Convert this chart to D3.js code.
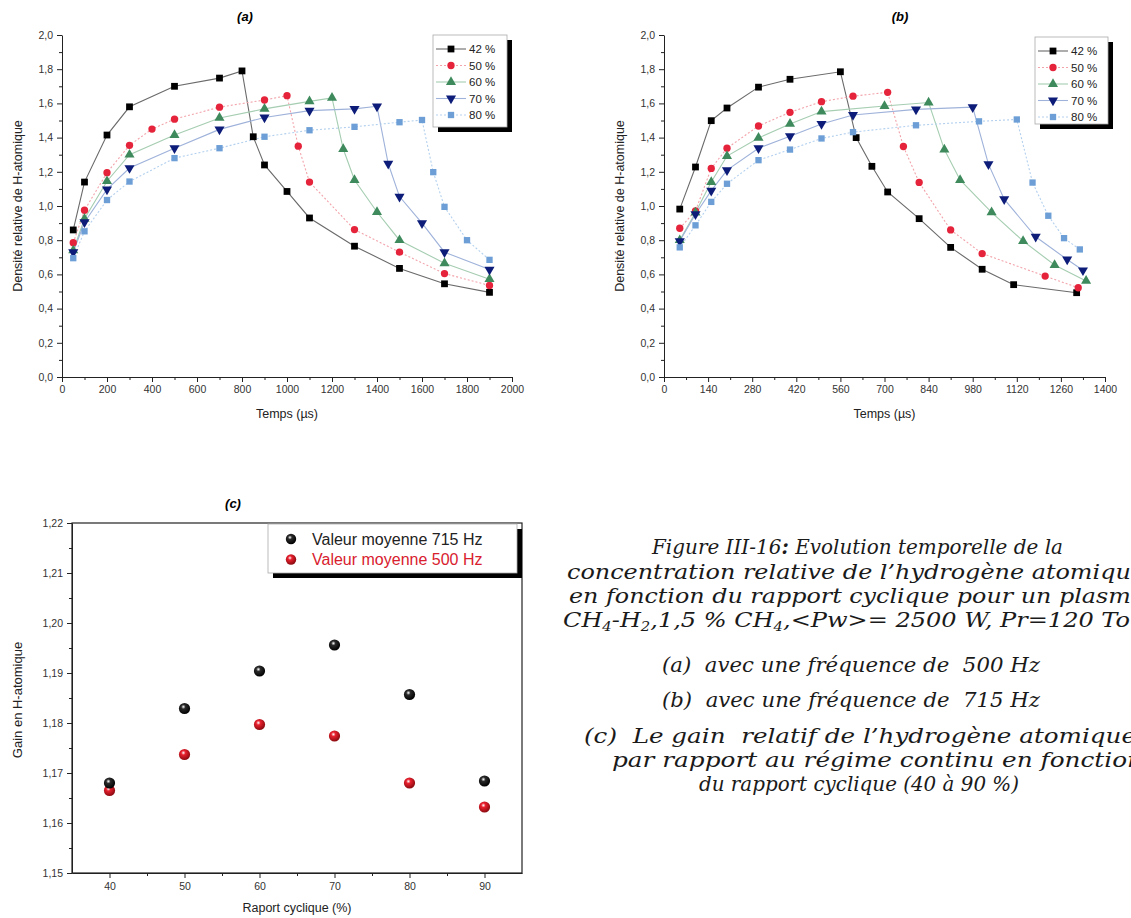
<!DOCTYPE html>
<html><head><meta charset="utf-8">
<script src="https://cdn.jsdelivr.net/npm/d3@7"></script>
<style>
body{margin:0;background:#fff}
svg{display:block}
.tick text{font-family:"Liberation Sans",Arial,sans-serif;font-size:10.5px;fill:#333}
.cap{font-family:"DejaVu Serif",serif;font-style:italic;font-size:19.5px;fill:#1a1a1a;white-space:pre}
</style>
</head><body>
<svg id="chart" width="1131" height="918"></svg>
<script>
// ---------------- DATA ----------------
const seriesLabels = ["42 %", "50 %", "60 %", "70 %", "80 %"];

// Panel (a) 500 Hz : time (µs) and relative density
const aT42 = [50,100,200,300,500,700,800,850,900,1000,1100,1300,1500,1700,1900];
const aV42 = [0.86,1.14,1.415,1.58,1.70,1.748,1.79,1.405,1.24,1.085,0.93,0.765,0.635,0.545,0.495];
const aT50 = [50,100,200,300,400,500,700,900,1000,1050,1100,1300,1500,1700,1900];
const aV50 = [0.785,0.975,1.195,1.355,1.45,1.508,1.578,1.62,1.645,1.35,1.14,0.862,0.73,0.605,0.535];
const aT60 = [50,100,200,300,500,700,900,1100,1200,1250,1300,1400,1500,1700,1900];
const aV60 = [0.74,0.925,1.145,1.30,1.415,1.515,1.568,1.612,1.632,1.333,1.152,0.965,0.80,0.665,0.572];
const aT70 = [50,100,200,300,500,700,900,1100,1300,1400,1450,1500,1600,1700,1900];
const aV70 = [0.73,0.905,1.097,1.222,1.338,1.448,1.518,1.558,1.568,1.583,1.247,1.055,0.90,0.73,0.628];
const aT80 = [50,100,200,300,500,700,900,1100,1300,1500,1600,1650,1700,1800,1900];
const aV80 = [0.695,0.852,1.035,1.143,1.28,1.338,1.405,1.443,1.463,1.49,1.503,1.198,0.995,0.80,0.685];

// Panel (b) 715 Hz
const bT42 = [50,100,150,200,300,400,560,610,660,710,810,910,1010,1110,1310];
const bV42 = [0.982,1.228,1.499,1.573,1.695,1.741,1.785,1.40,1.232,1.082,0.926,0.758,0.63,0.54,0.493];
const bT50 = [50,100,150,200,300,400,500,600,710,760,810,910,1010,1210,1315];
const bV50 = [0.87,0.972,1.22,1.338,1.468,1.548,1.61,1.642,1.665,1.348,1.138,0.86,0.722,0.59,0.522];
const bT60 = [50,100,150,200,300,400,500,700,840,890,940,1040,1140,1240,1340];
const bV60 = [0.80,0.962,1.14,1.292,1.398,1.48,1.552,1.585,1.605,1.33,1.152,0.963,0.795,0.655,0.562];
const bT70 = [50,100,150,200,300,400,500,600,800,980,1030,1080,1180,1280,1330];
const bV70 = [0.795,0.952,1.09,1.21,1.338,1.408,1.48,1.532,1.565,1.578,1.245,1.04,0.82,0.687,0.624];
const bT80 = [50,100,150,200,300,400,500,600,800,1000,1120,1170,1220,1270,1320];
const bV80 = [0.758,0.887,1.024,1.13,1.268,1.33,1.395,1.432,1.472,1.495,1.506,1.137,0.943,0.812,0.746];

// Panel (c) gain vs duty cycle
const cDuty = [40,50,60,70,80,90];
const c715 = [1.1680,1.1829,1.1904,1.1956,1.1857,1.1684];
const c500 = [1.1665,1.1737,1.1797,1.1774,1.1680,1.1632];
const cLegend = ["Valeur moyenne 715 Hz", "Valeur moyenne 500 Hz"];

// Tick values
const abYTicks = [0,0.2,0.4,0.6,0.8,1.0,1.2,1.4,1.6,1.8,2.0];
const aXTicks = [0,200,400,600,800,1000,1200,1400,1600,1800,2000];
const bXTicks = [0,140,280,420,560,700,840,980,1120,1260,1400];
const cXTicks = [40,50,60,70,80,90];
const cYTicks = [1.15,1.16,1.17,1.18,1.19,1.20,1.21,1.22];

// ---------------- STYLE ----------------
const markerColor = ["#000000","#e5233a","#3e8a5c","#0c1c78","#6d9fd6"];
const lineColor   = ["#6a6a6a","#f2a3ab","#a5cdb1","#9fb2da","#b3d0ee"];
const lineDash    = [null,"2,2",null,null,"2,2"];
const symbols = [d3.symbolSquare, d3.symbolCircle, d3.symbolTriangle, d3.symbolTriangle, d3.symbolSquare];
const symSize = [46,42,44,44,40];
const symRot  = [0,0,0,180,0];

const svg = d3.select("#chart");
const font = '"Liberation Sans",Arial,sans-serif';
const comma = f => d => d3.format(f)(d).replace(".", ",");

// ---------------- panels (a) & (b) ----------------
function timePanel(cfg){
  const x = d3.scaleLinear().domain(cfg.xDomain).range(cfg.xRange);
  const y = d3.scaleLinear().domain([0,2]).range([377,35]);
  const g = svg.append("g");
  g.append("g").attr("transform",`translate(0,${y(0)})`)
    .call(d3.axisBottom(x).tickValues(cfg.xMinor).tickSize(3).tickFormat(""))
    .call(s=>s.select(".domain").remove());
  g.append("g").attr("transform",`translate(${x(0)},0)`)
    .call(d3.axisLeft(y).tickValues(d3.range(0.1,2,0.2)).tickSize(3).tickFormat(""))
    .call(s=>s.select(".domain").remove());
  g.append("g").attr("transform",`translate(0,${y(0)})`)
    .call(d3.axisBottom(x).tickValues(cfg.xTicks).tickSize(5).tickSizeOuter(0).tickPadding(4).tickFormat(d3.format("d")));
  g.append("g").attr("transform",`translate(${x(0)},0)`)
    .call(d3.axisLeft(y).tickValues(abYTicks).tickSize(5).tickSizeOuter(0).tickPadding(4).tickFormat(comma(".1f")));
  g.selectAll(".domain,.tick line").attr("stroke","#222");

  cfg.series.forEach((s,i)=>{
    const pts = s.t.map((t,k)=>[t,s.v[k]]);
    g.append("path").datum(pts)
      .attr("fill","none").attr("stroke",lineColor[i]).attr("stroke-width",1.1)
      .attr("stroke-dasharray",lineDash[i])
      .attr("d",d3.line().x(d=>x(d[0])).y(d=>y(d[1])));
  });
  cfg.series.forEach((s,i)=>{
    g.selectAll(null).data(s.t.map((t,k)=>[t,s.v[k]])).enter().append("path")
      .attr("d",d3.symbol().type(symbols[i]).size(symSize[i]))
      .attr("transform",d=>`translate(${x(d[0])},${y(d[1])}) rotate(${symRot[i]})`)
      .attr("fill",markerColor[i]);
  });

  const L = cfg.legend;
  g.append("rect").attr("x",L.x+5).attr("y",L.y+5).attr("width",L.w).attr("height",L.h).attr("fill","#000");
  g.append("rect").attr("x",L.x).attr("y",L.y).attr("width",L.w).attr("height",L.h)
    .attr("fill","#fff").attr("stroke","#aaa").attr("stroke-width",0.8);
  seriesLabels.forEach((lab,i)=>{
    const yy = L.y + 14 + i*16.5;
    g.append("line").attr("x1",L.x+3).attr("x2",L.x+33).attr("y1",yy).attr("y2",yy)
      .attr("stroke",lineColor[i]).attr("stroke-width",1.1).attr("stroke-dasharray",lineDash[i]);
    g.append("path").attr("d",d3.symbol().type(symbols[i]).size(symSize[i]))
      .attr("transform",`translate(${L.x+18},${yy}) rotate(${symRot[i]})`).attr("fill",markerColor[i]);
    g.append("text").attr("x",L.x+36).attr("y",yy+4).text(lab)
      .attr("font-family",font).attr("font-size",11.5).attr("fill","#222");
  });

  g.append("text").attr("x",cfg.titleX).attr("y",21).attr("text-anchor","middle")
    .attr("font-family",font).attr("font-size",13).attr("font-weight","bold").attr("font-style","italic").text(cfg.title);
  g.append("text").attr("x",(cfg.xRange[0]+cfg.xRange[1])/2).attr("y",418).attr("text-anchor","middle")
    .attr("font-family",font).attr("font-size",12.5).attr("fill","#222").text("Temps (µs)");
  g.append("text").attr("transform",`translate(${cfg.yLabX},206) rotate(-90)`).attr("text-anchor","middle")
    .attr("font-family",font).attr("font-size",12.5).attr("fill","#222").text("Densité relative de H-atomique");
}

timePanel({
  xDomain:[0,2000], xRange:[62,512], xTicks:aXTicks, xMinor:d3.range(100,2000,200),
  series:[{t:aT42,v:aV42},{t:aT50,v:aV50},{t:aT60,v:aV60},{t:aT70,v:aV70},{t:aT80,v:aV80}],
  legend:{x:433,y:35,w:74,h:92}, title:"(a)", titleX:245, yLabX:22
});
timePanel({
  xDomain:[0,1400], xRange:[664,1105], xTicks:bXTicks, xMinor:d3.range(70,1400,140),
  series:[{t:bT42,v:bV42},{t:bT50,v:bV50},{t:bT60,v:bV60},{t:bT70,v:bV70},{t:bT80,v:bV80}],
  legend:{x:1035,y:37,w:73,h:87}, title:"(b)", titleX:900, yLabX:624
});

// ---------------- panel (c) ----------------
(function(){
  const x = d3.scaleLinear().domain([35,95]).range([72,522]);
  const y = d3.scaleLinear().domain([1.15,1.22]).range([873,523]);
  const g = svg.append("g");
  const defs = svg.append("defs");
  [["gBlack","#ffffff","#2a2a2a","#000"],["gRed","#ffffff","#e8202e","#8a0a10"]].forEach(([id,c0,c1,c2])=>{
    const rg = defs.append("radialGradient").attr("id",id).attr("cx","40%").attr("cy","35%").attr("r","65%");
    rg.append("stop").attr("offset","0%").attr("stop-color",c0);
    rg.append("stop").attr("offset","30%").attr("stop-color",c1);
    rg.append("stop").attr("offset","100%").attr("stop-color",c2);
  });
  g.append("g").attr("transform",`translate(0,873)`)
    .call(d3.axisBottom(x).tickValues(d3.range(45,95,10)).tickSize(3).tickFormat(""))
    .call(s=>s.select(".domain").remove());
  g.append("g").attr("transform",`translate(72,0)`)
    .call(d3.axisLeft(y).tickValues(d3.range(1.155,1.22,0.01)).tickSize(3).tickFormat(""))
    .call(s=>s.select(".domain").remove());
  g.append("g").attr("transform",`translate(0,873)`)
    .call(d3.axisBottom(x).tickValues(cXTicks).tickSize(5).tickSizeOuter(0).tickPadding(5).tickFormat(d3.format("d")));
  g.append("g").attr("transform",`translate(72,0)`)
    .call(d3.axisLeft(y).tickValues(cYTicks).tickSize(5).tickSizeOuter(0).tickPadding(4).tickFormat(comma(".2f")));
  g.selectAll(".domain,.tick line").attr("stroke","#222");
  g.append("rect").attr("x",72).attr("y",523).attr("width",450).attr("height",350)
    .attr("fill","none").attr("stroke","#222").attr("stroke-width",1.2);

  g.append("rect").attr("x",273).attr("y",529).attr("width",249).attr("height",49).attr("fill","#000");
  g.append("rect").attr("x",268).attr("y",524).attr("width",249).attr("height",49)
    .attr("fill","#fff").attr("stroke","#aaa").attr("stroke-width",0.8);
  [["url(#gBlack)","#222"],["url(#gRed)","#d8202e"]].forEach(([f,tc],i)=>{
    const yy = 539 + i*20.5;
    g.append("circle").attr("cx",291).attr("cy",yy).attr("r",5.2).attr("fill",f);
    g.append("text").attr("x",312).attr("y",yy+5.5).text(cLegend[i])
      .attr("font-family",font).attr("font-size",16).attr("fill",tc);
  });

  g.selectAll(null).data(cDuty.map((d,k)=>[d,c500[k]])).enter().append("circle")
    .attr("cx",d=>x(d[0])).attr("cy",d=>y(d[1])).attr("r",5.6).attr("fill","url(#gRed)");
  g.selectAll(null).data(cDuty.map((d,k)=>[d,c715[k]])).enter().append("circle")
    .attr("cx",d=>x(d[0])).attr("cy",d=>y(d[1])).attr("r",5.6).attr("fill","url(#gBlack)");

  g.append("text").attr("x",233).attr("y",508).attr("text-anchor","middle")
    .attr("font-family",font).attr("font-size",13).attr("font-weight","bold").attr("font-style","italic").text("(c)");
  g.append("text").attr("x",297).attr("y",912).attr("text-anchor","middle")
    .attr("font-family",font).attr("font-size",12.5).attr("fill","#222").text("Raport cyclique (%)");
  g.append("text").attr("transform",`translate(22,700) rotate(-90)`).attr("text-anchor","middle")
    .attr("font-family",font).attr("font-size",13).attr("fill","#222").text("Gain en H-atomique");
})();

// ---------------- caption ----------------
(function(){
  const g = svg.append("g");
  function line(x, y, anchor, len, parts){
    const t = g.append("text").attr("class","cap").attr("x",x).attr("y",y).attr("text-anchor",anchor);
    if (len) t.attr("textLength",len).attr("lengthAdjust","spacingAndGlyphs");
    parts.forEach(p=>{
      if (typeof p === "string") t.append("tspan").text(p);
      else if (p.sub) t.append("tspan").attr("font-size",12).attr("baseline-shift","-4").text(p.sub);
      else if (p.bold) t.append("tspan").attr("font-weight","bold").text(p.bold);
    });
  }
  line(652,554,"start",411,["Figure III-16",{bold:":"}," Evolution temporelle de la"]);
  line(567,579,"start",578,["concentration relative de l’hydrogène atomique"]);
  line(569,603,"start",576,["en fonction du rapport cyclique pour un plasma"]);
  line(563,627,"start",590,["CH",{sub:"4"},"-H",{sub:"2"},",1,5 % CH",{sub:"4"},",<Pw>= 2500 W, Pr=120 Torr"]);
  line(662,672,"start",378,["(a)  avec une fréquence de  500 Hz"]);
  line(662,707,"start",378,["(b)  avec une fréquence de  715 Hz"]);
  line(584,743,"start",552,["(c)  Le gain  relatif de l’hydrogène atomique"]);
  line(612,767,"start",531,["par rapport au régime continu en fonction"]);
  line(699,791,"start",320,["du rapport cyclique (40 à 90 %)"]);
})();
</script>
</body></html>
